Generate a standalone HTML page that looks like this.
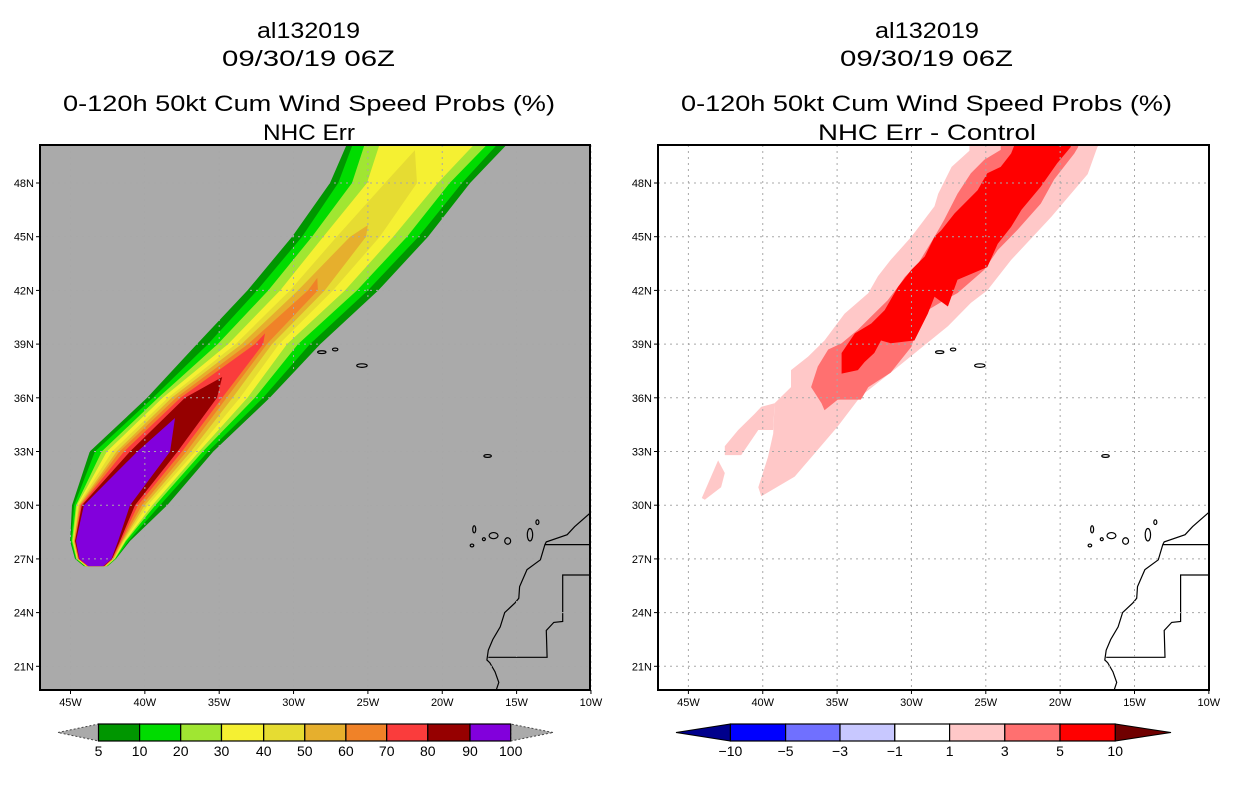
<!DOCTYPE html>
<html><head><meta charset="utf-8"><title>al132019 wind speed probs</title>
<style>
html,body{margin:0;padding:0;background:#fff;}
svg{display:block;font-family:"Liberation Sans",sans-serif;}
</style></head>
<body>
<svg id="fig" width="1236" height="800" viewBox="0 0 1236 800" xmlns="http://www.w3.org/2000/svg">
<defs>
<clipPath id="clipL"><rect x="40" y="145" width="550" height="545"/></clipPath>
<clipPath id="clipR"><rect x="658" y="145" width="551" height="545"/></clipPath>
</defs>
<g font-size="22" text-anchor="start" fill="#000">
<text x="257" y="38" textLength="103" lengthAdjust="spacingAndGlyphs">al132019</text>
<text x="222" y="66" textLength="173" lengthAdjust="spacingAndGlyphs">09/30/19 06Z</text>
<text x="63" y="111" textLength="492" lengthAdjust="spacingAndGlyphs">0-120h 50kt Cum Wind Speed Probs (%)</text>
<text x="263" y="140" textLength="92" lengthAdjust="spacingAndGlyphs">NHC Err</text>
</g>
<g font-size="22" fill="#000">
<text x="875" y="38" textLength="104" lengthAdjust="spacingAndGlyphs">al132019</text>
<text x="840" y="66" textLength="173" lengthAdjust="spacingAndGlyphs">09/30/19 06Z</text>
<text x="681" y="111" textLength="491" lengthAdjust="spacingAndGlyphs">0-120h 50kt Cum Wind Speed Probs (%)</text>
<text x="818" y="140" textLength="218" lengthAdjust="spacingAndGlyphs">NHC Err - Control</text>
</g>
<g id="left"></g>
<g id="right"></g>
<g id="cbL"></g>
<g id="cbR"></g>
</svg>
<script>
// ---- data ----
const lonTicks = [-45,-40,-35,-30,-25,-20,-15,-10];
const lonTickLabels = ["45W","40W","35W","30W","25W","20W","15W","10W"];
const latTicks = [21,24,27,30,33,36,39,42,45,48];
const latTickLabels = ["21N","24N","27N","30N","33N","36N","39N","42N","45N","48N"];

const probLevels = [5,10,20,30,40,50,60,70,80,90,100];
const probColors = ["#009600","#00dc00","#a0e632","#f5f032","#e6dc32","#e6af2d","#f08228","#fa3c3c","#960000","#8200dc"];
const nodeLats = [50.2,48,45,42,39,36,33,30,28,27,26.6];
const lvl5  = [[-26.4,-15.6],[-27.55,-18.13],[-30.1,-20.96],[-33.1,-24.3],[-36.5,-28.2],[-39.85,-31.6],[-43.7,-35.4],[-44.9,-38.5],[-45.03,-41.0],[-44.7,-41.94],[-44.1,-42.5]];
const lvl10 = [[-26.0,-16.25],[-27.0,-18.67],[-29.43,-21.6],[-32.45,-25.0],[-35.75,-28.9],[-39.45,-32.05],[-43.35,-35.75],[-44.76,-38.98],[-44.97,-41.1],[-44.66,-41.97],[-44.06,-42.51]];
const lvl20 = [[-25.2,-16.92],[-26.07,-19.5],[-28.76,-22.37],[-31.7,-25.73],[-35.1,-29.7],[-39.1,-32.6],[-42.9,-36.1],[-44.63,-39.3],[-44.9,-41.27],[-44.6,-42.0],[-44.0,-42.55]];
const lvl30 = [[-24.2,-17.8],[-25.06,-20.3],[-28.0,-23.3],[-30.9,-26.54],[-34.4,-30.44],[-38.8,-33.1],[-42.55,-36.35],[-44.56,-39.5],[-44.83,-41.33],[-44.56,-42.04],[-44.0,-42.6]];
const lvl40 = [null,[-23.85,-21.7],[-27.1,-24.2],[-30.24,-27.35],[-33.9,-30.98],[-38.45,-33.6],[-42.2,-36.6],[-44.5,-39.8],[-44.83,-41.4],[-44.53,-42.07],[-43.95,-42.6]];
const lvl50 = [null,null,[-26.2,-25.13],[-29.7,-27.9],[-33.5,-31.45],[-38.2,-34.1],[-41.9,-36.9],[-44.43,-40.0],[-44.76,-41.47],[-44.5,-42.1],[-43.9,-42.65]];
const lvl60 = [null,null,null,[-29.03,-28.36],[-33.06,-31.8],[-37.9,-34.5],[-41.7,-37.2],[-44.36,-40.2],[-44.76,-41.54],[-44.5,-42.14],[-43.9,-42.7]];
const lvl70 = [null,null,null,null,[-32.6,-32.05],[-37.6,-34.8],[-41.4,-37.5],[-44.3,-40.46],[-44.7,-41.6],[-44.46,-42.18],[-43.83,-42.71]];
const lvl80 = [null,null,null,null,null,[-37.3,-35.15],[-41.0,-37.8],[-44.23,-40.66],[-44.7,-41.67],[-44.43,-42.2],[-43.8,-42.75]];
const lvl90 = [null,null,null,null,null,null,[-40.5,-38.3],[-44.1,-41.0],[-44.63,-41.8],[-44.4,-42.24],[-43.8,-42.8]];
const levelTips = [null,null,null,null,[-21.84,49.84],[-25.0,45.65],[-28.4,42.7],[-31.92,39.6],[-34.8,37.16],[-37.97,34.87]];

const diffLevels = [-10,-5,-3,-1,1,3,5,10];
const diffColors = ["#00008c","#0000ff","#7070ff","#c8c8ff","#ffffff","#ffc8c8","#ff7070","#ff0000","#700000"];
const diffPink1Main = [[-26.1,50.6],[-17.0,50.6],[-17.5,50.0],[-18.15,48.5],[-20.6,46.1],[-23.3,43.7],[-24.9,42.0],[-26.0,41.3],[-27.55,40.0],[-31.4,37.4],[-33.4,36.1],[-34.95,34.4],[-36.5,32.9],[-37.85,31.6],[-40.1,30.5],[-40.3,31.0],[-39.65,32.7],[-39.3,34.0],[-39.2,35.7],[-38.1,36.6],[-38.1,37.55],[-36.95,38.3],[-35.85,39.2],[-34.5,40.7],[-32.9,41.85],[-32.25,42.8],[-31.4,43.7],[-30.0,45.0],[-28.45,46.7],[-28.2,47.4],[-27.3,48.9],[-26.1,49.8]];
const diffPink1Strip = [[-44.1,30.4],[-43.0,32.5],[-42.55,31.8],[-42.8,31.0],[-43.9,30.3]];
const diffPink1Lobe = [[-42.55,33.3],[-41.65,34.2],[-40.55,35.1],[-40.1,35.5],[-39.2,35.7],[-39.3,34.2],[-40.3,34.2],[-41.45,32.8],[-42.55,32.8]];
const diffPink3 = [[-24.0,50.6],[-18.6,50.6],[-18.8,50.0],[-19.05,49.65],[-20.4,48.2],[-21.3,46.85],[-22.85,45.4],[-24.2,44.25],[-25.1,43.15],[-26.9,41.85],[-27.8,41.45],[-28.9,40.9],[-29.6,40.0],[-30.0,38.85],[-31.4,37.4],[-32.9,36.6],[-33.4,35.9],[-34.95,35.9],[-35.85,35.3],[-36.05,35.7],[-36.75,36.6],[-36.3,37.75],[-35.6,38.7],[-34.7,39.05],[-33.6,39.8],[-32.7,40.55],[-31.6,41.45],[-30.9,42.2],[-30.45,42.75],[-29.55,43.5],[-28.45,45.0],[-27.8,45.95],[-26.9,47.4],[-26.0,48.55],[-25.1,49.3],[-24.0,49.85]];
const diffRed5 = [[-22.85,50.6],[-19.1,50.6],[-19.3,50.0],[-20.2,49.1],[-21.3,47.8],[-22.6,46.5],[-23.3,45.55],[-24.2,44.6],[-24.9,43.3],[-26.9,42.6],[-27.55,41.1],[-28.45,41.65],[-28.9,40.7],[-29.8,39.2],[-31.4,39.05],[-32.05,39.2],[-32.5,38.5],[-33.15,38.0],[-33.6,37.55],[-34.7,37.35],[-34.7,38.5],[-33.8,39.6],[-32.7,40.15],[-31.8,40.9],[-30.9,42.2],[-30.0,43.15],[-29.1,43.9],[-28.45,45.0],[-28.0,45.35],[-27.1,46.3],[-25.55,47.6],[-24.9,48.55],[-24.0,48.9],[-23.3,49.65]];

const coastAfrica = [[-9.5,30.2],[-10.0,29.6],[-11.1,28.8],[-11.6,28.35],[-13.0,27.95],[-13.1,27.8],[-13.4,26.95],[-14.3,26.4],[-14.8,25.45],[-14.85,24.8],[-15.1,24.55],[-15.8,24.0],[-16.1,23.2],[-16.6,22.5],[-16.9,21.9],[-17.0,21.35],[-16.8,21.2],[-16.45,20.7],[-16.2,20.1],[-16.4,19.6]];
const border1 = [[-13.1,27.8],[-9.0,27.8]];
const border2 = [[-9.0,26.1],[-11.9,26.1],[-11.9,23.5],[-12.5,23.45],[-13.0,23.0],[-12.95,21.5],[-16.9,21.5]];
// islands: lon, lat, half-width (deg lon), half-height (deg lat)
const islands = [[-17.85,28.65,0.1,0.2],[-16.55,28.3,0.3,0.17],[-15.6,28.0,0.2,0.18],[-14.1,28.35,0.18,0.35],[-13.6,29.05,0.1,0.13],[-18.0,27.75,0.12,0.08],[-17.2,28.1,0.1,0.08],[-16.95,32.75,0.25,0.08],[-25.4,37.8,0.35,0.1],[-28.1,38.55,0.28,0.08],[-27.2,38.7,0.18,0.08]];

// ---- helpers ----
const NS = "http://www.w3.org/2000/svg";
function mk(parent, tag, attrs){const e=document.createElementNS(NS,tag);for(const k in attrs)e.setAttribute(k,attrs[k]);parent.appendChild(e);return e;}
function makeProj(x0){return {x:lon=>x0+(lon+45)*14.87, y:lat=>183+(48-lat)*17.9};}
function ptsStr(P,arr){return arr.map(p=>P.x(p[0]).toFixed(1)+","+P.y(p[1]).toFixed(1)).join(" ");}

function drawFrameAndAxes(g,P,x0,x1){
  const grid=mk(g,"g",{});
  
  
  lonTicks.forEach(lo=>{mk(grid,"line",{x1:P.x(lo),x2:P.x(lo),y1:145,y2:690,stroke:"#a8a8a8","stroke-width":1,"stroke-dasharray":"2,4"});});
  latTicks.forEach(la=>{mk(grid,"line",{x1:x0,x2:x1,y1:P.y(la),y2:P.y(la),stroke:"#a8a8a8","stroke-width":1,"stroke-dasharray":"2,4"});});
  const fr=mk(g,"rect",{x:x0,y:145,width:x1-x0,height:545,fill:"none",stroke:"#000","stroke-width":2});
  
  
  lonTicks.forEach((lo,i)=>{
    mk(g,"line",{x1:P.x(lo),x2:P.x(lo),y1:690,y2:694,stroke:"#000","stroke-width":1});
    const t=mk(g,"text",{x:P.x(lo),y:706,"font-size":11,"text-anchor":"middle"});
    
    
    t.textContent=lonTickLabels[i];
  });
  latTicks.forEach((la,i)=>{
    mk(g,"line",{x1:x0-4,x2:x0,y1:P.y(la),y2:P.y(la),stroke:"#000","stroke-width":1});
    const t=mk(g,"text",{x:x0-6,y:P.y(la)+4,"font-size":11,"text-anchor":"end"});
    
    
    t.textContent=latTickLabels[i];
  });
}
function drawGeo(g,P){
  const geo=mk(g,"g",{fill:"none",stroke:"#000","stroke-width":1.2});
  
  
  [coastAfrica,border1,border2].forEach(a=>mk(geo,"polyline",{points:ptsStr(P,a)}));
  islands.forEach(is=>{mk(geo,"ellipse",{cx:P.x(is[0]),cy:P.y(is[1]),rx:is[2]*14.87,ry:is[3]*17.9});});
}

// ---- left panel ----
(function(){
  const P=makeProj(70.5);
  const g=document.getElementById("left");
  const inner=mk(g,"g",{"clip-path":"url(#clipL)"});
  const bg=mk(inner,"rect",{x:40,y:145,width:550,height:545,fill:"#aaaaaa"});
  
  
  const levels=[lvl5,lvl10,lvl20,lvl30,lvl40,lvl50,lvl60,lvl70,lvl80,lvl90];
  levels.forEach((lv,k)=>{
    const left=[],right=[];
    for(let i=nodeLats.length-1;i>=0;i--){ if(lv[i]) left.push([lv[i][0],nodeLats[i]]); }
    for(let i=0;i<nodeLats.length;i++){ if(lv[i]) right.push([lv[i][1],nodeLats[i]]); }
    let pts=left.slice();
    if(levelTips[k]) pts.push(levelTips[k]);
    pts=pts.concat(right);
    const poly=mk(inner,"polygon",{points:ptsStr(P,pts),fill:probColors[k]});
    
    
  });
  drawGeo(inner,P);
  drawFrameAndAxes(g,P,40,590);
})();

// ---- right panel ----
(function(){
  const P=makeProj(688.4);
  const g=document.getElementById("right");
  const inner=mk(g,"g",{"clip-path":"url(#clipR)"});
  mk(inner,"rect",{x:658,y:145,width:551,height:545,fill:"#fff"});
  const shapes=[[diffPink1Main,5,"diff-1-3-main"],[diffPink1Strip,5,"diff-1-3-strip"],[diffPink1Lobe,5,"diff-1-3-lobe"],[diffPink3,6,"diff-3-5"],[diffRed5,7,"diff-5-10"]];
  shapes.forEach(s=>{
    const poly=mk(inner,"polygon",{points:ptsStr(P,s[0]),fill:diffColors[s[1]]});
    
    
  });
  drawGeo(inner,P);
  drawFrameAndAxes(g,P,658,1209);
})();

// ---- colorbars ----
function colorbar(gid,bounds,colors,labels,triColors,y0,h,tipL,tipR,dash){
  const g=document.getElementById(gid);
  const n=bounds.length-1, ym=y0+h/2;
  const tl=mk(g,"polygon",{points:`${tipL},${ym} ${bounds[0]},${y0} ${bounds[0]},${y0+h}`,fill:triColors[0],stroke:dash?"#444":"#000","stroke-width":1,"stroke-dasharray":dash?"2,2":"none"});
  
  
  const tr=mk(g,"polygon",{points:`${tipR},${ym} ${bounds[n]},${y0} ${bounds[n]},${y0+h}`,fill:triColors[1],stroke:dash?"#444":"#000","stroke-width":1,"stroke-dasharray":dash?"2,2":"none"});
  
  
  for(let i=0;i<n;i++){
    const r=mk(g,"rect",{x:bounds[i],y:y0,width:bounds[i+1]-bounds[i],height:h,fill:colors[i],stroke:"#000","stroke-width":1.2});
    
    
  }
  labels.forEach((lb,i)=>{
    const t=mk(g,"text",{x:bounds[i],y:y0+h+15,"font-size":14,"text-anchor":"middle"});
    
    
    t.textContent=lb;
  });
}
colorbar("cbL",[98.5,139.6,180.7,221.5,263.7,304.8,345.9,386.7,427.8,470,510.7],probColors,probLevels.map(String),["#aaaaaa","#aaaaaa"],724,17,58,553,true);
colorbar("cbR",[730.4,785.6,840,894.8,949.6,1004.8,1060,1115.2],diffColors.slice(1,8),diffLevels.map(v=>v<0?"\u2212"+Math.abs(v):String(v)),[diffColors[0],diffColors[8]],724,17,676,1171,false);
</script>
</body></html>
